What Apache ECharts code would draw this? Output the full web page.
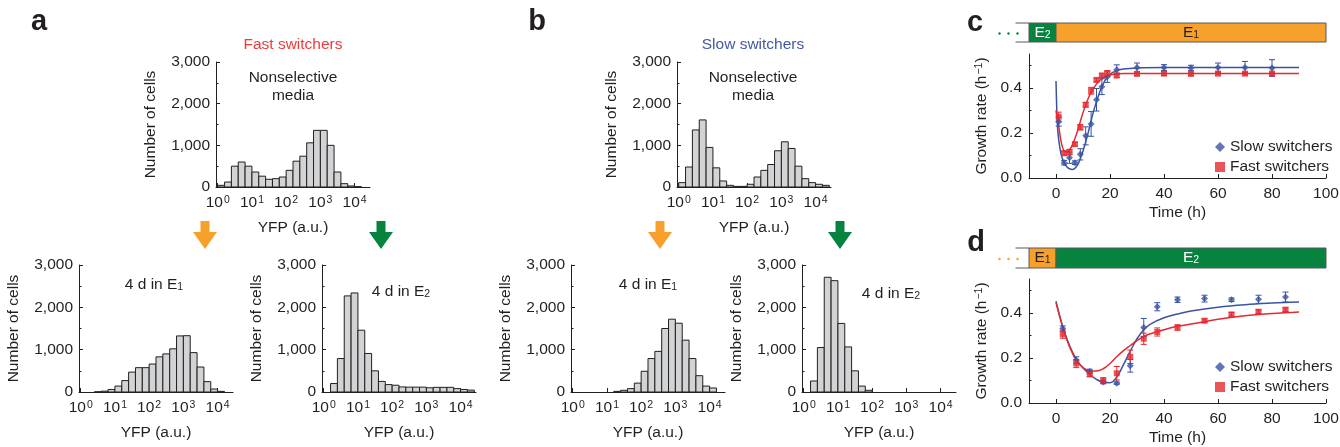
<!DOCTYPE html>
<html>
<head>
<meta charset="utf-8">
<script src="https://cdn.jsdelivr.net/npm/echarts@6/dist/echarts.min.js"></script>
<style>
html, body { margin: 0; padding: 0; background: #fff; }
#fig { width: 1340px; height: 447px; }
</style>
</head>
<body>
<div id="fig"></div>
<script>
// histogram bins (log10 of YFP), shared by all six histograms
var binCenters = [0.1, 0.3, 0.5, 0.7, 0.9, 1.1, 1.3, 1.5, 1.7, 1.9, 2.1, 2.3, 2.5, 2.7, 2.9, 3.1, 3.3, 3.5, 3.7, 3.9, 4.1, 4.3];
var binHalf = 0.1;
var decadeTicks = [0, 1, 2, 3, 4];

// number of cells per bin
var aTop = [40, 120, 500, 600, 500, 360, 260, 185, 200, 240, 400, 620, 740, 1060, 1360, 1360, 1000, 360, 80, 25, 8, 0];
var aE1 = [0, 0, 5, 20, 60, 140, 270, 470, 575, 575, 660, 830, 900, 1020, 1325, 1330, 930, 590, 245, 70, 15, 0];
var aE2 = [0, 200, 790, 2270, 2340, 1460, 910, 500, 250, 175, 160, 120, 115, 115, 115, 100, 110, 110, 110, 80, 60, 45];
var bTop = [105, 480, 1370, 1610, 950, 460, 145, 40, 15, 15, 65, 240, 400, 540, 870, 1085, 925, 500, 200, 105, 65, 40];
var bE1 = [0, 0, 0, 0, 0, 0, 15, 40, 80, 210, 490, 790, 960, 1500, 1720, 1625, 1225, 790, 385, 140, 95, 0];
var bE2 = [0, 260, 1050, 2710, 2630, 1620, 1065, 500, 140, 40, 0, 0, 0, 0, 0, 0, 0, 0, 0, 0, 0, 0];

// panel c : E2 -> E1
var cTime = [1, 3, 5, 7, 9, 11, 13, 15, 17, 19, 22.5, 30, 40, 50, 60, 70, 80];
var cSlow = [0.25, 0.068, 0.09, 0.068, 0.105, 0.187, 0.24, 0.347, 0.405, 0.449, 0.48, 0.49, 0.49, 0.488, 0.49, 0.49, 0.488];
var cSlowErr = [0.02, 0.01, 0.025, 0.008, 0.025, 0.04, 0.055, 0.05, 0.035, 0.025, 0.022, 0.02, 0.013, 0.012, 0.02, 0.027, 0.037];
var cFast = [0.272, 0.11, 0.115, 0.15, 0.225, 0.325, 0.387, 0.435, 0.455, 0.464, 0.455, 0.462, 0.463, 0.462, 0.463, 0.463, 0.463];
var cFastErr = [0.02, 0.01, 0.012, 0.008, 0.012, 0.01, 0.015, 0.008, 0.008, 0.012, 0.01, 0.008, 0.008, 0.008, 0.006, 0.006, 0.006];
var cSlowFitT = [0, 0.3, 0.6, 1, 1.5, 2, 3, 4, 5, 6, 7, 8, 9, 10, 11, 12, 14, 16, 18, 20, 22, 25, 30, 40, 60, 90];
var cSlowFit = [0.43, 0.3, 0.22, 0.17, 0.13, 0.1, 0.068, 0.05, 0.041, 0.038, 0.043, 0.058, 0.085, 0.12, 0.16, 0.205, 0.3, 0.375, 0.43, 0.46, 0.474, 0.483, 0.488, 0.49, 0.49, 0.49];
var cFastFitT = [0, 1, 2, 3, 4, 5, 6, 7, 8, 9, 10, 11, 12, 13, 14, 16, 18, 20, 22, 25, 30, 90];
var cFastFit = [0.3, 0.23, 0.155, 0.12, 0.115, 0.125, 0.145, 0.175, 0.21, 0.25, 0.29, 0.325, 0.355, 0.38, 0.4, 0.43, 0.448, 0.457, 0.461, 0.463, 0.463, 0.463];

// panel d : E1 -> E2
var dTime = [2.5, 7.5, 12.5, 17.5, 22.5, 27.5, 32.5, 37.5, 45, 55, 65, 75, 85];
var dSlow = [0.33, 0.19, 0.14, 0.093, 0.088, 0.165, 0.335, 0.427, 0.458, 0.463, 0.458, 0.46, 0.47];
var dSlowErr = [0.012, 0.015, 0.01, 0.008, 0.005, 0.028, 0.04, 0.018, 0.012, 0.015, 0.008, 0.018, 0.022];
var dFast = [0.305, 0.175, 0.127, 0.1, 0.132, 0.205, 0.285, 0.315, 0.335, 0.365, 0.393, 0.405, 0.414];
var dFastErr = [0.018, 0.018, 0.01, 0.012, 0.03, 0.03, 0.025, 0.018, 0.012, 0.008, 0.008, 0.008, 0.008];
var dFitT = [0, 2.5, 5, 7.5, 10, 12.5, 15, 17.5, 20, 22.5, 25, 27.5, 30, 32.5, 35, 40, 45, 50, 60, 70, 80, 90];
var dSlowFit = [0.452, 0.34, 0.255, 0.195, 0.155, 0.127, 0.105, 0.092, 0.09, 0.115, 0.17, 0.23, 0.285, 0.325, 0.35, 0.378, 0.395, 0.408, 0.425, 0.436, 0.443, 0.448];
var dFastFit = [0.445, 0.335, 0.25, 0.19, 0.157, 0.143, 0.142, 0.152, 0.175, 0.205, 0.232, 0.255, 0.277, 0.295, 0.307, 0.325, 0.34, 0.35, 0.371, 0.387, 0.397, 0.404];

var timeTicks = [0, 20, 40, 60, 80, 100];
var rateTicks = [0, 0.2, 0.4];
var rateMinor = [0.1, 0.3, 0.5];

// environment schedule bars above c and d (hours)
var envC = ['', 'E2', 'E1'];
var envCStart = [-15, -10, 0];
var envCEnd = [-10, 0, 100];
var envD = ['', 'E1', 'E2'];
var envDStart = [-15, -10, 0];
var envDEnd = [-10, 0, 100];

var FONT = 15.5;
var INK = '#231f20';
var BLUE = '#3a54a4';
var RED = '#e52a2f';
var ORANGE = '#f7a02c';
var GREEN = '#06833f';
var EDGE = '#58595b';
var ENV_FILL = { E1: ORANGE, E2: GREEN };
var ENV_INK = { E1: INK, E2: '#ffffff' };

var myChart = echarts.init(document.getElementById('fig'));

function zip(a, b) {
  return a.map(function (v, i) { return [v, b[i]]; });
}
function zip3(a, b, c) {
  return a.map(function (v, i) { return [v, b[i], c[i]]; });
}

// 3,000 style labels
function thousands(v) {
  return v === 0 ? '0' : (v / 1000) + ',000';
}

var supRich = {
  b: { fontSize: FONT, color: INK },
  s: { fontSize: 10.5, color: INK, verticalAlign: 'top', padding: [0, 0, 0, 1] }
};

var grids = [
  { left: 216, top: 62, width: 154, height: 125 },   // a nonselective
  { left: 79, top: 265, width: 154, height: 127 },   // a E1
  { left: 322, top: 265, width: 154, height: 127 },  // a E2
  { left: 677, top: 62, width: 154, height: 125 },   // b nonselective
  { left: 571, top: 265, width: 154, height: 127 },  // b E1
  { left: 802, top: 265, width: 154, height: 127 },  // b E2
  { left: 1029, top: 54, width: 297, height: 124 },  // c
  { left: 1029, top: 279, width: 297, height: 124 }, // d
  { left: 1029, top: 23, width: 297, height: 19 },   // c schedule
  { left: 1029, top: 248, width: 297, height: 20 }   // d schedule
].map(function (g) {
  g.containLabel = false;
  g.outerBoundsMode = 'none';
  return g;
});

var axisLine = { show: true, onZero: false, lineStyle: { color: INK } };

function histX(i) {
  return {
    gridIndex: i, type: 'value', min: -0.05, max: 4.45,
    axisLine: axisLine,
    axisTick: { show: true, inside: true, length: 4, customValues: decadeTicks, lineStyle: { color: INK } },
    axisLabel: {
      customValues: decadeTicks, margin: 8,
      formatter: function (v) { return '{b|10}{s|' + v + '}'; },
      rich: supRich
    },
    splitLine: { show: false },
    name: 'YFP (a.u.)', nameLocation: 'middle', nameGap: 33,
    nameTextStyle: { fontSize: FONT, color: INK }
  };
}
function histY(i) {
  return {
    gridIndex: i, type: 'value', min: 0, max: 3000, interval: 1000,
    axisLine: axisLine,
    axisTick: { show: true, inside: true, length: 4, lineStyle: { color: INK } },
    minorTick: { show: true, splitNumber: 2, length: 2.5, lineStyle: { color: INK } },
    axisLabel: { margin: 6, fontSize: FONT, color: INK, formatter: thousands },
    splitLine: { show: false },
    name: 'Number of cells', nameLocation: 'middle', nameGap: 57,
    nameTextStyle: { fontSize: FONT, color: INK }
  };
}
function timeX(i) {
  return {
    gridIndex: i, type: 'value', min: -10, max: 100,
    axisLine: axisLine,
    axisTick: { show: true, inside: true, length: 4, customValues: timeTicks, lineStyle: { color: INK } },
    axisLabel: { customValues: timeTicks, margin: 8, fontSize: FONT, color: INK },
    splitLine: { show: false },
    name: 'Time (h)', nameLocation: 'middle', nameGap: 27,
    nameTextStyle: { fontSize: FONT, color: INK }
  };
}
function rateY(i) {
  return {
    gridIndex: i, type: 'value', min: 0, max: 0.55,
    axisLine: axisLine,
    axisTick: { show: true, inside: true, length: 4, customValues: rateTicks, lineStyle: { color: INK } },
    axisLabel: {
      customValues: rateTicks, margin: 7, fontSize: FONT, color: INK,
      formatter: function (v) { return v.toFixed(1); }
    },
    splitLine: { show: false },
    name: 'Growth rate (h{s|\u22121})', nameLocation: 'middle', nameGap: 39,
    nameTextStyle: { fontSize: FONT, color: INK, rich: supRich }
  };
}
// second y axis on the same grid, only for the short in-between ticks
function rateMinorY(i) {
  return {
    gridIndex: i, type: 'value', min: 0, max: 0.55, position: 'left', offset: 0,
    axisLine: { show: false, onZero: false },
    axisTick: { show: true, inside: true, length: 2.5, customValues: rateMinor, lineStyle: { color: INK } },
    axisLabel: { show: false },
    splitLine: { show: false }
  };
}
function hiddenAxis(i, lo, hi) {
  return { gridIndex: i, type: 'value', min: lo, max: hi, show: false, splitLine: { show: false } };
}

function renderBin(params, api) {
  var x = api.value(0), n = api.value(1);
  var lt = api.coord([x - binHalf, n]);
  var rb = api.coord([x + binHalf, 0]);
  return {
    type: 'rect',
    shape: { x: lt[0], y: lt[1], width: rb[0] - lt[0], height: rb[1] - lt[1] },
    style: { fill: '#d1d3d4', stroke: INK, lineWidth: 1 }
  };
}
function histSeries(i, counts) {
  var data = [];
  binCenters.forEach(function (c, j) { if (counts[j] > 0) data.push([c, counts[j]]); });
  return { type: 'custom', xAxisIndex: i, yAxisIndex: i, renderItem: renderBin, data: data, silent: true };
}

function errRender(color) {
  return function (params, api) {
    var t = api.value(0), y = api.value(1), e = api.value(2);
    var hi = api.coord([t, y + e]), lo = api.coord([t, y - e]);
    var w = 3;
    var st = { stroke: color, lineWidth: 1 };
    return {
      type: 'group', children: [
        { type: 'line', shape: { x1: hi[0], y1: hi[1], x2: lo[0], y2: lo[1] }, style: st },
        { type: 'line', shape: { x1: hi[0] - w, y1: hi[1], x2: hi[0] + w, y2: hi[1] }, style: st },
        { type: 'line', shape: { x1: lo[0] - w, y1: lo[1], x2: lo[0] + w, y2: lo[1] }, style: st }
      ]
    };
  };
}

function growthSeries(i, t, slow, slowErr, fast, fastErr, slowFitT, slowFit, fastFitT, fastFit) {
  return [
    { type: 'line', xAxisIndex: i, yAxisIndex: i, data: zip(slowFitT, slowFit), smooth: 0.4, showSymbol: false,
      lineStyle: { color: BLUE, width: 1.5 }, silent: true, z: 2 },
    { type: 'line', xAxisIndex: i, yAxisIndex: i, data: zip(fastFitT, fastFit), smooth: 0.4, showSymbol: false,
      lineStyle: { color: RED, width: 1.5 }, silent: true, z: 2 },
    { type: 'custom', xAxisIndex: i, yAxisIndex: i, renderItem: errRender(BLUE), data: zip3(t, slow, slowErr), z: 3 },
    { type: 'custom', xAxisIndex: i, yAxisIndex: i, renderItem: errRender(RED), data: zip3(t, fast, fastErr), z: 3 },
    { type: 'scatter', name: 'Slow switchers', xAxisIndex: i, yAxisIndex: i, data: zip(t, slow),
      symbol: 'diamond', symbolSize: 7, itemStyle: { color: BLUE }, z: 4 },
    { type: 'scatter', name: 'Fast switchers', xAxisIndex: i, yAxisIndex: i, data: zip(t, fast),
      symbol: 'rect', symbolSize: 6, itemStyle: { color: RED }, z: 4 }
  ];
}

function scheduleRender(names, leadColor) {
  return function (params, api) {
    var name = names[params.dataIndex];
    var p0 = api.coord([api.value(0), 1]);
    var p1 = api.coord([api.value(1), 0]);
    var w = p1[0] - p0[0], h = p1[1] - p0[1];
    var st = { stroke: EDGE, lineWidth: 1 };
    if (!name) {
      var kids = [
        { type: 'line', shape: { x1: p0[0], y1: p0[1], x2: p1[0], y2: p0[1] }, style: st },
        { type: 'line', shape: { x1: p0[0], y1: p1[1], x2: p1[0], y2: p1[1] }, style: st }
      ];
      for (var k = 0; k < 3; k++) {
        kids.push({ type: 'circle', shape: { cx: p0[0] + 2 - 9 * k, cy: p0[1] + h / 2 + 1, r: 1.2 }, style: { fill: leadColor } });
      }
      return { type: 'group', children: kids };
    }
    var ink = ENV_INK[name];
    return {
      type: 'group', children: [
        { type: 'rect', shape: { x: p0[0], y: p0[1], width: w, height: h }, style: { fill: ENV_FILL[name], stroke: EDGE, lineWidth: 1 } },
        { type: 'text', x: p0[0] + w / 2, y: p0[1] + h / 2,
          style: {
            text: '{b|E}{s|' + name.slice(1) + '}', align: 'center', verticalAlign: 'middle',
            rich: {
              b: { fontSize: FONT, fill: ink, color: ink, fontFamily: 'Liberation Sans' },
              s: { fontSize: 10.5, fill: ink, color: ink, verticalAlign: 'bottom', fontFamily: 'Liberation Sans' }
            }
          } }
      ]
    };
  };
}

function txt(x, y, text, extra) {
  var style = { text: text, x: x, y: y, align: 'center', verticalAlign: 'middle', fill: INK,
    font: FONT + 'px "Liberation Sans", Arial, sans-serif' };
  for (var k in extra) style[k] = extra[k];
  return { type: 'text', style: style, silent: true };
}
function subTxt(x, y, base, sub) {
  return txt(x, y, base + '{s|' + sub + '}', {
    rich: {
      s: { fontSize: 10.5, fill: INK, verticalAlign: 'bottom', fontFamily: 'Liberation Sans' }
    }
  });
}
function arrow(cx, color) {
  return {
    type: 'polygon', silent: true,
    shape: { points: [[cx - 4.5, 221], [cx + 4.5, 221], [cx + 4.5, 232], [cx + 12, 232], [cx, 249], [cx - 12, 232], [cx - 4.5, 232]] },
    style: { fill: color }
  };
}
function letter(x, y, s) {
  return txt(x, y, s, { font: 'bold 29px "Liberation Sans", Arial, sans-serif' });
}

var xAxes = [histX(0), histX(1), histX(2), histX(3), histX(4), histX(5), timeX(6), timeX(7),
  hiddenAxis(8, -10, 100), hiddenAxis(9, -10, 100)];
var yAxes = [histY(0), histY(1), histY(2), histY(3), histY(4), histY(5), rateY(6), rateY(7),
  hiddenAxis(8, 0, 1), hiddenAxis(9, 0, 1), rateMinorY(6), rateMinorY(7)];

var series = [
  histSeries(0, aTop), histSeries(1, aE1), histSeries(2, aE2),
  histSeries(3, bTop), histSeries(4, bE1), histSeries(5, bE2)
]
  .concat(growthSeries(6, cTime, cSlow, cSlowErr, cFast, cFastErr, cSlowFitT, cSlowFit, cFastFitT, cFastFit))
  .concat(growthSeries(7, dTime, dSlow, dSlowErr, dFast, dFastErr, dFitT, dSlowFit, dFitT, dFastFit))
  .concat([
    { type: 'custom', xAxisIndex: 8, yAxisIndex: 8, clip: false, silent: true,
      renderItem: scheduleRender(envC, GREEN), data: zip(envCStart, envCEnd) },
    { type: 'custom', xAxisIndex: 9, yAxisIndex: 9, clip: false, silent: true,
      renderItem: scheduleRender(envD, ORANGE), data: zip(envDStart, envDEnd) }
  ]);

function legendAt(top) {
  return {
    data: ['Slow switchers', 'Fast switchers'], orient: 'vertical', left: 1210, top: top,
    itemWidth: 10, itemHeight: 10, itemGap: 4, selectedMode: false,
    textStyle: { fontSize: FONT, color: INK, lineHeight: 16 }
  };
}

var option = {
  animation: false,
  backgroundColor: '#ffffff',
  textStyle: { fontFamily: '"Liberation Sans", Arial, sans-serif' },
  grid: grids,
  xAxis: xAxes,
  yAxis: yAxes,
  legend: [legendAt(134), legendAt(354)],
  series: series,
  graphic: [
    letter(39, 22, 'a'), letter(537, 22, 'b'), letter(975, 23, 'c'), letter(976, 243, 'd'),
    txt(293, 45, 'Fast switchers', { fill: '#ee3a3a' }),
    txt(753, 45, 'Slow switchers', { fill: '#4257a7' }),
    txt(293, 87, 'Nonselective\nmedia', { lineHeight: 18 }),
    txt(753, 87, 'Nonselective\nmedia', { lineHeight: 18 }),
    subTxt(154, 285, '4 d in E', '1'),
    subTxt(401, 292, '4 d in E', '2'),
    subTxt(648, 285, '4 d in E', '1'),
    subTxt(891, 294, '4 d in E', '2'),
    arrow(205, ORANGE), arrow(381, GREEN), arrow(660, ORANGE), arrow(840, GREEN)
  ]
};

myChart.setOption(option);
</script>
</body>
</html>
